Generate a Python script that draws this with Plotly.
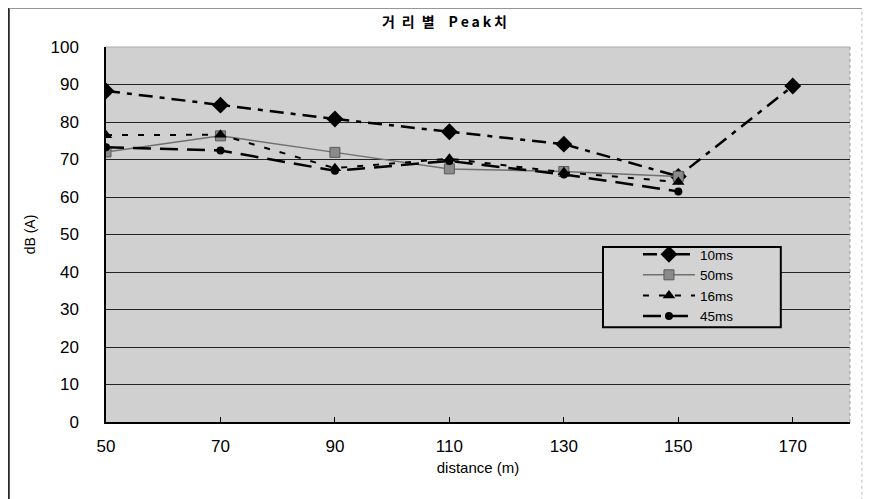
import plotly.graph_objects as go

distance = [50, 70, 90, 110, 130, 150, 170]
s10 = [88.3, 84.5, 80.8, 77.4, 74.1, 65.5, 89.6]
s50 = [72.0, 76.3, 71.9, 67.5, 66.8, 65.5]
s16 = [76.5, 76.6, 67.7, 70.2, 66.6, 64.0]
s45 = [73.3, 72.4, 67.0, 69.6, 66.0, 61.5]
yticks = list(range(0, 101, 10))
xticks = [50, 70, 90, 110, 130, 150, 170]

fig = go.Figure()
fig.add_trace(go.Scatter(x=distance, y=s10, name="10ms", mode="lines+markers",
                         line=dict(color="black", width=2.5, dash="14px,7px,5px,7px"),
                         marker=dict(symbol="diamond", size=13, color="black")))
fig.add_trace(go.Scatter(x=distance[:6], y=s50, name="50ms", mode="lines+markers",
                         line=dict(color="#707070", width=1.5, dash="solid"),
                         marker=dict(symbol="square", size=10, color="#8a8a8a",
                                     line=dict(color="#5a5a5a", width=1))))
fig.add_trace(go.Scatter(x=distance[:6], y=s16, name="16ms", mode="lines+markers",
                         line=dict(color="black", width=2, dash="6px,10px"),
                         marker=dict(symbol="triangle-up", size=11, color="black")))
fig.add_trace(go.Scatter(x=distance[:6], y=s45, name="45ms", mode="lines+markers",
                         line=dict(color="black", width=2.5, dash="18px,9px"),
                         marker=dict(symbol="circle", size=8, color="black")))

fig.update_layout(
    width=878, height=491,
    margin=dict(l=98, r=36, t=39, b=77),
    paper_bgcolor="white",
    plot_bgcolor="#d0d0d0",
    font=dict(family="Liberation Sans, Arial, sans-serif", color="black", size=15),
    title=dict(text="<b>거\u2002리\u2002별\u2002\u2002P\u2009e\u2009a\u2009k\u2009치</b>",
               x=0.497, xref="container", xanchor="center",
               y=0.972, yref="container", yanchor="middle",
               font=dict(family="Noto Sans CJK KR", size=14, color="black")),
    showlegend=True,
    legend=dict(x=0.715, y=0.488, xanchor="left", yanchor="top",
                bgcolor="rgba(0,0,0,0)", borderwidth=0,
                font=dict(size=13.5), tracegroupgap=0, itemwidth=52),
    xaxis=dict(range=[50, 180], tickvals=xticks, ticktext=[str(v) for v in xticks],
               showgrid=False, zeroline=False, showline=True, linecolor="black", linewidth=1.5,
               ticks="inside", ticklen=5, tickcolor="black", ticklabelstandoff=8,
               title=dict(text="distance (m)", font=dict(size=15), standoff=7),
               tickfont=dict(size=17, family="Liberation Sans Narrow, Liberation Sans, sans-serif"),
               mirror=False),
    yaxis=dict(range=[0, 100], tickvals=yticks, showgrid=True, gridcolor="#222222", gridwidth=1,
               zeroline=False, showline=True, linecolor="black", linewidth=1.5,
               ticks="", ticklabelstandoff=22,
               title=dict(text="dB (A)", font=dict(size=14), standoff=12),
               tickfont=dict(size=17)),
)
# legend box
fig.add_shape(type="rect", xref="paper", yref="paper", x0=0.668, x1=0.907, y0=0.253, y1=0.467,
              fillcolor="#d3d3d3", line=dict(color="black", width=2), layer="above")
fig.add_shape(type="line", xref="paper", yref="paper", x0=1.0, x1=1.0, y0=0, y1=1,
              line=dict(color="#999999", width=1, dash="dot"))
fig.add_shape(type="line", xref="paper", yref="paper", x0=0, x1=1, y0=1, y1=1,
              line=dict(color="#aaaaaa", width=1))
# outer frame
fig.add_shape(type="line", xref="paper", yref="paper", x0=-0.1305, x1=-0.1305, y0=-0.21, y1=1.104,
              line=dict(color="black", width=1.5))
fig.add_shape(type="line", xref="paper", yref="paper", x0=-0.1305, x1=1.016, y0=1.103, y1=1.103,
              line=dict(color="#888888", width=1))
fig.add_shape(type="line", xref="paper", yref="paper", x0=1.016, x1=1.016, y0=-0.21, y1=1.103,
              line=dict(color="#bbbbbb", width=1, dash="dot"))

fig.write_html("out.html")
